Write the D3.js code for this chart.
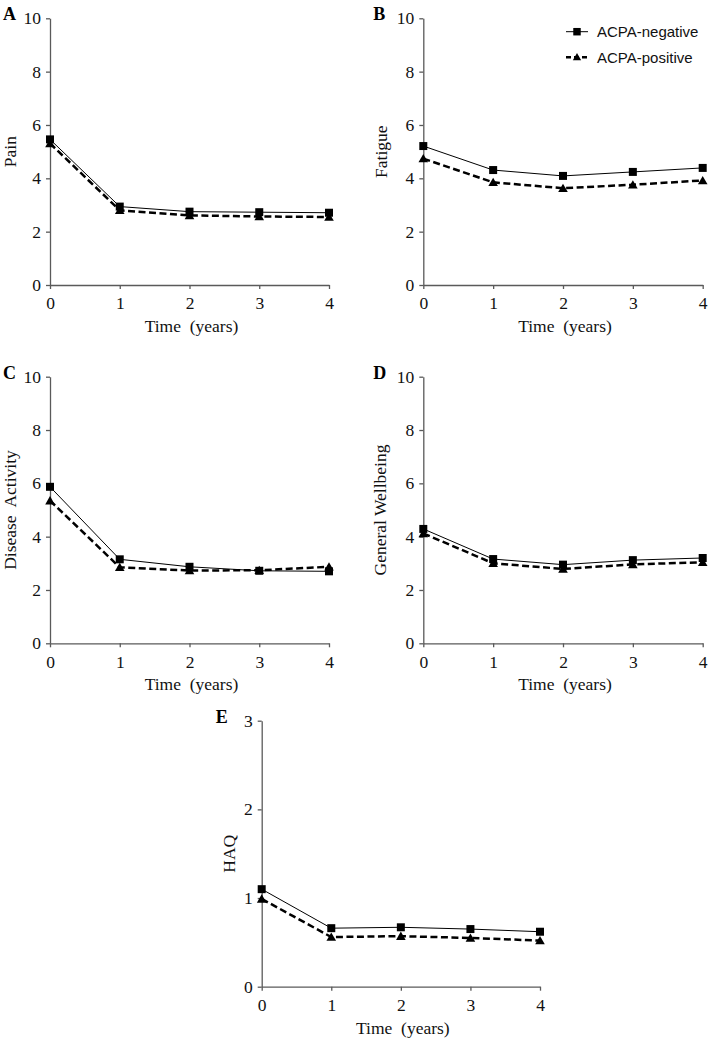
<!DOCTYPE html>
<html><head><meta charset="utf-8">
<script src="https://cdn.jsdelivr.net/npm/d3@7"></script>
<style>body{margin:0;background:#fff}</style>
</head><body>
<script>
const years = [0, 1, 2, 3, 4];
const seriesNames = ["ACPA-negative", "ACPA-positive"];
const panelLetters = ["A", "B", "C", "D", "E"];
const yTitles = ["Pain", "Fatigue", "Disease  Activity", "General Wellbeing", "HAQ"];
const yMax = [10, 10, 10, 10, 3];
const yTicksBig = [0, 2, 4, 6, 8, 10];
const yTicksHaq = [0, 1, 2, 3];
const xTitle = "Time  (years)";

const painNeg = [5.46, 2.94, 2.75, 2.73, 2.71];
const painPos = [5.31, 2.80, 2.61, 2.57, 2.55];
const fatigueNeg = [5.21, 4.31, 4.09, 4.24, 4.39];
const fatiguePos = [4.74, 3.85, 3.63, 3.76, 3.92];
const diseaseNeg = [5.87, 3.15, 2.87, 2.72, 2.70];
const diseasePos = [5.35, 2.85, 2.73, 2.74, 2.87];
const wellbeingNeg = [4.29, 3.16, 2.95, 3.12, 3.20];
const wellbeingPos = [4.12, 3.00, 2.79, 2.96, 3.04];
const haqNeg = [1.10, 0.66, 0.67, 0.65, 0.62];
const haqPos = [0.99, 0.56, 0.57, 0.55, 0.52];

const negData = [painNeg, fatigueNeg, diseaseNeg, wellbeingNeg, haqNeg];
const posData = [painPos, fatiguePos, diseasePos, wellbeingPos, haqPos];

const W = 709, H = 1039;
const svg = d3.select("body").append("svg").attr("width", W).attr("height", H);

const layout = [
  {l: 50, r: 329, t: 18.3, b: 285, yl: 34, lx: 47},
  {l: 423.3, r: 702.7, t: 18.3, b: 285, yl: 36, lx: 50},
  {l: 50, r: 329, t: 376.7, b: 643.3, yl: 34, lx: 47},
  {l: 423.3, r: 702.7, t: 376.7, b: 643.3, yl: 37, lx: 50},
  {l: 261.7, r: 540, t: 720.7, b: 986.7, yl: 27, lx: 46}
];

const serif = "Liberation Serif";
const sans = "Liberation Sans";
const axisColor = "#5a5a5a";

const sq = d3.symbol().type(d3.symbolSquare).size(64);
const tri = d3.symbol().type(d3.symbolTriangle).size(40);

layout.forEach((L, i) => {
  const g = svg.append("g");
  const x = d3.scaleLinear().domain([0, 4]).range([L.l, L.r]);
  const y = d3.scaleLinear().domain([0, yMax[i]]).range([L.b, L.t]);
  const yt = yMax[i] === 3 ? yTicksHaq : yTicksBig;

  const xa = g.append("g").attr("transform", `translate(0,${L.b})`)
    .call(d3.axisBottom(x).tickValues(years).tickFormat(d3.format("d")).tickSize(4).tickSizeOuter(0).tickPadding(8));
  const ya = g.append("g").attr("transform", `translate(${L.l},0)`)
    .call(d3.axisLeft(y).tickValues(yt).tickFormat(d3.format("d")).tickSize(4).tickSizeOuter(0).tickPadding(5));
  [xa, ya].forEach(a => {
    a.attr("font-family", null).attr("font-size", null);
    a.select(".domain").attr("stroke", axisColor).attr("stroke-width", 1.3);
    a.selectAll(".tick line").attr("stroke", axisColor).attr("stroke-width", 1.3);
    a.selectAll(".tick text").style("font-family", serif).style("font-size", "17.5px").attr("fill", "#111");
  });

  g.append("text").attr("x", (L.l + L.r) / 2 + 2).attr("y", L.b + 47)
    .attr("text-anchor", "middle").style("font-family", serif).style("font-size", "17.5px")
    .attr("fill", "#111").style("white-space", "pre").text(xTitle);

  g.append("text").attr("transform", `translate(${L.l - L.yl},${(L.t + L.b) / 2}) rotate(-90)`)
    .attr("text-anchor", "middle").style("font-family", serif).style("font-size", "17.5px")
    .attr("fill", "#111").style("white-space", "pre").text(yTitles[i]);

  g.append("text").attr("x", L.l - L.lx).attr("y", L.t + 2)
    .style("font-family", serif).style("font-weight", "bold").style("font-size", "18px")
    .attr("fill", "#000").text(panelLetters[i]);

  const line = d3.line().x((d, j) => x(years[j])).y(d => y(d));
  g.append("path").datum(negData[i]).attr("d", line).attr("fill", "none")
    .attr("stroke", "#000").attr("stroke-width", 1);
  g.append("path").datum(posData[i]).attr("d", line).attr("fill", "none")
    .attr("stroke", "#000").attr("stroke-width", 2.5).attr("stroke-dasharray", "7,3.5");

  g.selectAll(".mneg").data(negData[i]).enter().append("path")
    .attr("transform", (d, j) => `translate(${x(years[j])},${y(d)})`).attr("d", sq).attr("fill", "#000");
  g.selectAll(".mpos").data(posData[i]).enter().append("path")
    .attr("transform", (d, j) => `translate(${x(years[j])},${y(d) + 1})`).attr("d", tri).attr("fill", "#000");
});

// legend
const leg = svg.append("g");
const legRows = [31.7, 57.3];
seriesNames.forEach((name, k) => {
  const yy = legRows[k];
  leg.append("line").attr("x1", 566).attr("x2", 588).attr("y1", yy).attr("y2", yy)
    .attr("stroke", "#000").attr("stroke-width", k === 0 ? 1 : 2.5)
    .attr("stroke-dasharray", k === 0 ? null : "5,3");
  leg.append("path").attr("transform", `translate(577,${yy + (k ? 0.5 : 0)})`)
    .attr("d", k === 0 ? d3.symbol().type(d3.symbolSquare).size(56)() : d3.symbol().type(d3.symbolTriangle).size(30)())
    .attr("fill", "#000");
  leg.append("text").attr("x", 597).attr("y", yy + 5.5).style("font-family", sans)
    .style("font-size", "15px").attr("fill", "#111").text(name);
});
</script>
</body></html>
